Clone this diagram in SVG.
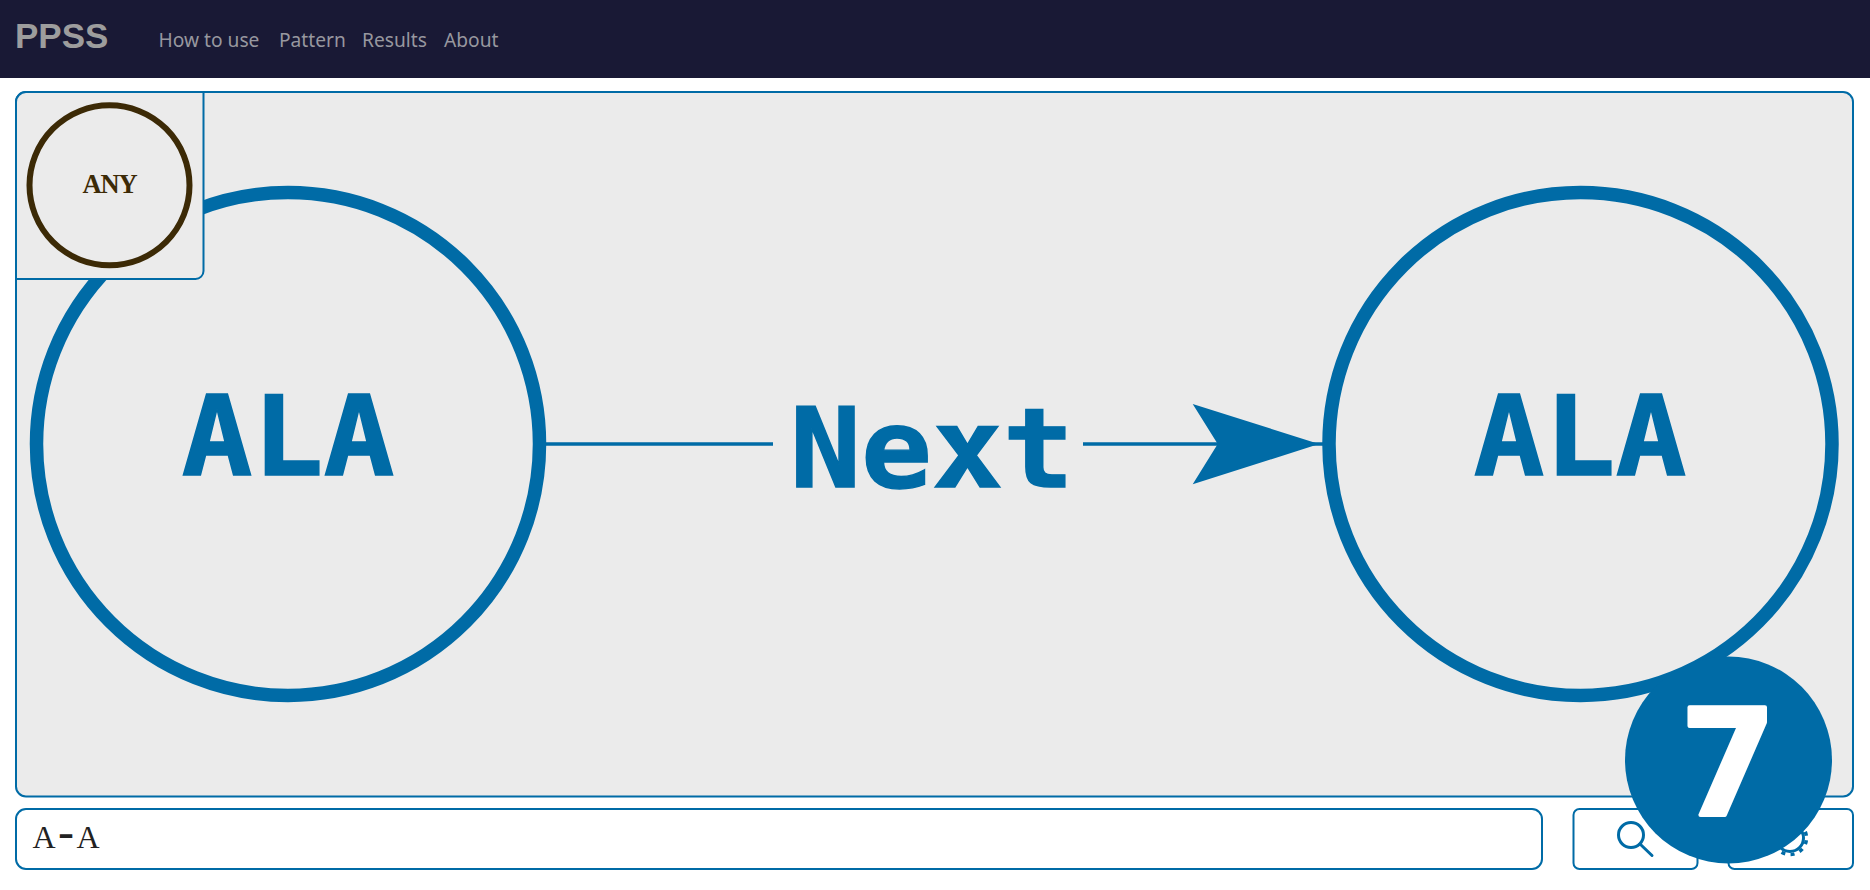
<svg xmlns="http://www.w3.org/2000/svg" width="1870" height="890" viewBox="0 0 1870 890">
<style>
.nav{font-family:"Noto Sans","Open Sans",sans-serif;font-size:19.2px;fill:#97979f}
.big{font-family:"DejaVu Sans Mono",monospace;font-weight:700;font-size:118px;fill:#006ba6;stroke:#006ba6;stroke-width:1.5px;text-anchor:middle}
.node{fill:none;stroke:#006ba6;stroke-width:13.5}
.frame{stroke:#006ba6;stroke-width:2}
.line{stroke:#006ba6;stroke-width:3.5;fill:none}
</style>
<rect width="1870" height="890" fill="#fff"/>
<g id="navbar">
<rect width="1870" height="78" fill="#191935"/>
<text x="15" y="48" font-family="Liberation Sans,sans-serif" font-weight="700" font-size="35" fill="#9d9d9d">PPSS</text>
<text class="nav" x="158.500" y="47">How to use</text>
<text class="nav" x="279" y="47">Pattern</text>
<text class="nav" x="362" y="47">Results</text>
<text class="nav" x="444" y="47">About</text>
</g>
<rect id="panel" class="frame" x="16" y="92" width="1837" height="704.500" rx="10" fill="#ebebeb"/>
<g id="connectors">
<line class="line" x1="545" y1="444" x2="773" y2="444"/>
<line class="line" x1="1083" y1="444" x2="1325" y2="444"/>
<polygon points="1319,444 1192.700,404 1217.700,444 1192.700,484.300" fill="#006ba6"/>
</g>
<g id="node-left">
<circle class="node" cx="288" cy="444" r="251.500"/>
<text class="big" transform="translate(288 475) scale(1 .93)">ALA</text>
</g>
<g id="edge-label">
<text class="big" transform="translate(932 487) scale(1 .93)">Next</text>
</g>
<g id="node-right">
<circle class="node" cx="1580.500" cy="444" r="251.500"/>
<text class="big" transform="translate(1580 475) scale(1 .93)">ALA</text>
</g>
<g id="any-box">
<path class="frame" d="M16 279H195.500a8 8 0 0 0 8-8V92H26a10 10 0 0 0-10 10Z" fill="#ebebeb"/>
<circle cx="109.500" cy="185.300" r="80" fill="none" stroke="#3c2a06" stroke-width="6"/>
<text x="82.500 100.500 118.500" y="193.300" font-family="Liberation Serif,serif" font-weight="700" font-size="26.500" fill="#3c2a06">ANY</text>
</g>
<g id="search-input">
<rect class="frame" x="16" y="809" width="1526" height="60" rx="10" fill="#fff"/>
<text x="32.500" y="848.300" font-family="Liberation Serif,serif" font-size="32" fill="#222">A<tspan x="58" font-size="48">-</tspan><tspan x="76.500">A</tspan></text>
</g>
<g id="search-button">
<rect class="frame" x="1573.500" y="809" width="124" height="60" rx="6" fill="#fff"/>
<circle cx="1631" cy="835" r="12.500" fill="none" stroke="#006ba6" stroke-width="3"/>
<line x1="1640" y1="844" x2="1652" y2="855.500" stroke="#006ba6" stroke-width="3" stroke-linecap="round"/>
</g>
<g id="settings-button">
<rect class="frame" x="1728.500" y="809" width="124.500" height="60" rx="6" fill="#fff"/>
<circle cx="1790" cy="838" r="13.500" fill="none" stroke="#006ba6" stroke-width="3"/>
<circle cx="1790" cy="838" r="16.500" fill="none" stroke="#006ba6" stroke-width="3.500" stroke-dasharray="4 5.430" stroke-dashoffset="-2.300"/>
</g>
<g id="badge">
<circle cx="1728.500" cy="760" r="103.500" fill="#006ba6"/>
<text transform="translate(1728 814.700) scale(1.1 1)" font-family="DejaVu Sans Mono,monospace" font-weight="700" font-size="148" fill="#fff" stroke="#fff" stroke-width="4" stroke-linejoin="round" text-anchor="middle">7</text>
</g>
</svg>
